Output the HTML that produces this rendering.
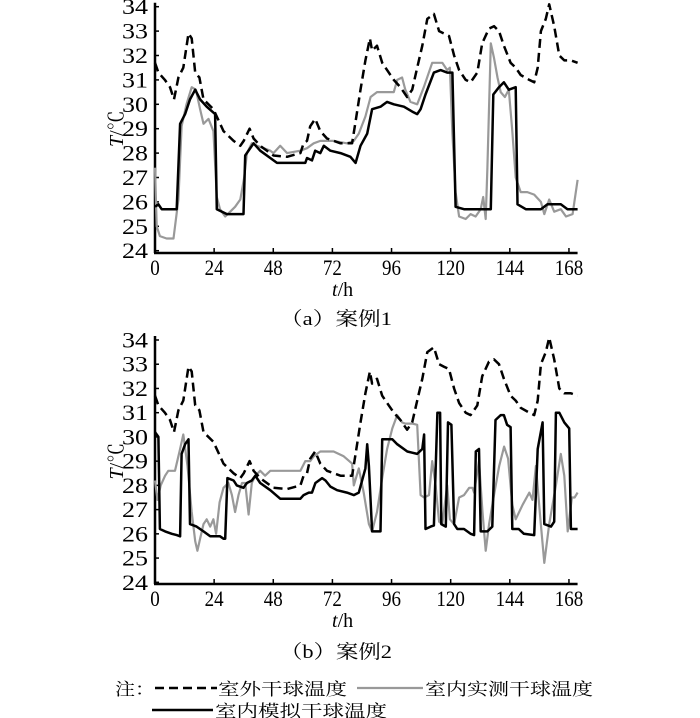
<!DOCTYPE html>
<html><head><meta charset="utf-8"><style>
html,body{margin:0;padding:0;background:#fff;}
svg{display:block;}
text{font-family:"Liberation Serif","Noto Serif CJK SC",serif;fill:#000;}
</style></head><body>
<svg id="svg" width="700" height="718" viewBox="0 0 700 718">
<g id="pa"></g>
<g id="pb"></g>
<g>
<text x="115" y="695" font-size="17" textLength="40" lengthAdjust="spacingAndGlyphs">注：</text>
<line x1="155" y1="688" x2="217" y2="688" stroke="#000" stroke-width="2.5" stroke-dasharray="9,5"/>
<text x="218" y="695" font-size="17" textLength="129" lengthAdjust="spacingAndGlyphs">室外干球温度</text>
<line x1="357" y1="688" x2="423" y2="688" stroke="#999" stroke-width="2.2"/>
<text x="425" y="695" font-size="17" textLength="168" lengthAdjust="spacingAndGlyphs">室内实测干球温度</text>
<line x1="152" y1="710" x2="213" y2="710" stroke="#000" stroke-width="2.5"/>
<text x="215" y="717" font-size="17" textLength="172" lengthAdjust="spacingAndGlyphs">室内模拟干球温度</text>
</g>
</svg>
<script>
const xTicks=[0,24,48,72,96,120,144,168];
const yTicks=[24,25,26,27,28,29,30,31,32,33,34];
const outH=[0,1.4,4,6.1,7.7,9.5,11.5,13.6,14.9,16.3,18,19.7,23.7,27.8,31.9,34.6,36,38.4,40,42.7,48.1,53.6,59,60.3,61.7,63,65,67.1,69.8,75.3,80,81.4,83.4,85.4,87.2,88.1,90.1,92.2,94.9,96.9,99.6,102.3,104.4,106.4,108.5,110.5,113.2,115.3,117.3,119.3,121.4,123.4,126.1,128.1,130.8,132.8,135.5,137.6,139.6,141.6,144.3,146.4,148.4,151.9,153.9,155.3,156.6,158.6,160,162,164.1,166.1,168.8,171.5];
const outT=[31.7,31.3,31.0,30.7,30.2,31.1,31.5,32.9,32.7,31.3,31.1,30.2,29.8,28.9,28.5,28.3,28.5,29.0,28.6,28.3,27.9,27.85,28.0,28.4,28.5,29.1,29.4,28.9,28.6,28.4,28.4,29.3,30.6,31.8,32.7,32.2,32.4,31.7,31.3,31.0,30.7,30.3,30.6,31.5,32.4,33.5,33.7,33.0,32.9,32.8,32.0,31.4,31.0,30.9,31.3,32.5,33.1,33.2,33.0,32.4,31.7,31.5,31.2,31.0,30.9,31.5,33.0,33.5,34.1,33.2,32.0,31.8,31.8,31.7];
const simAH=[0,1.4,2.7,8.8,10.2,12.2,14.2,16.3,18.3,21,24.4,25.1,29.2,32.5,35.9,36.6,40,42.7,46.8,49.5,53.6,61,61.7,63.7,65,67.1,68.5,71.2,75.3,79.3,81.4,83.4,86.1,88.1,91.5,94.2,96.9,101,104.4,106.4,107.8,109.8,113.2,115.9,118.6,120.7,122,125.4,130.8,136.3,137.3,139.6,141.6,143.6,146.4,147.1,150.5,153.9,156.6,159.3,164.7,167.4,171.5];
const simAT=[25.8,25.9,25.7,25.7,29.2,29.6,30.2,30.6,30.2,29.9,29.6,25.7,25.5,25.5,25.5,27.9,28.4,28.1,27.8,27.6,27.6,27.6,27.8,27.7,28.1,28.0,28.3,28.1,28.0,27.85,27.6,28.3,28.8,29.8,29.9,30.1,30.0,29.9,29.7,29.6,29.8,30.4,31.3,31.4,31.3,31.3,25.8,25.7,25.7,25.7,30.4,30.7,30.9,30.6,30.7,25.9,25.7,25.7,25.7,25.9,25.9,25.7,25.7];
const meaAH=[0,0.7,2,4.7,7.5,9.5,10.8,12.8,14.9,16.6,18.3,19.7,21.7,23.7,25.1,26.4,28.5,30.5,32.5,34.6,36.2,37.3,39.3,41.4,44.1,46.8,48.1,50.8,53.6,59,61.7,64.4,67.1,72.5,77.9,80.7,82.7,85.4,87.5,90.1,96.9,98.3,100.3,101.6,103.7,106.4,109.1,112.5,116.6,118.6,119.7,120.7,122,123.4,126.1,128.1,130.1,132.2,133.2,134.2,134.9,136.3,137.6,139,140.3,142,143.6,145,146.4,148.4,151.1,153.9,156.6,158,160,162,164.7,166.8,169.5,171.5];
const meaAT=[27.4,25,24.6,24.5,24.5,26.1,29.1,30.0,30.7,30.6,29.8,29.2,29.4,28.9,26.2,25.7,25.4,25.6,25.8,26.1,27,28,28.4,28.3,28.2,28.1,28.0,28.3,28.0,28.1,28.2,28.4,28.5,28.5,28.4,28.5,28.8,29.5,30.3,30.5,30.5,31.0,31.1,30.6,30.1,30.0,30.7,31.7,31.7,31.4,31.5,28.8,26.4,25.4,25.3,25.5,25.4,25.7,26.2,25.3,27.4,32.5,31.9,31.1,30.5,30.3,30.6,28.9,27.0,26.4,26.4,26.3,26.0,25.5,26.1,25.6,25.7,25.4,25.5,26.9];
const simBH=[0,1.4,2,4.1,6.8,8.8,10.2,10.8,12.2,13.6,14.2,16.9,19.7,22.4,26.4,27.8,28.5,29.4,31.9,33.2,35.9,37.3,39.3,40.7,42.7,46.8,50.8,54.9,59,60.3,62.4,63.7,65.1,67.8,69.2,71.2,73.9,77.9,80.7,82.7,85.4,86.1,86.8,88.1,90.8,91.5,92.2,95.6,96.3,98.3,102.4,104.4,106.4,108.5,109.2,109.8,111.9,113.2,114.6,115.7,116.2,118,118.9,120.3,121.4,122.7,125.4,128.1,129.5,130.2,131.5,132.2,134.9,136.9,138.2,140.3,141.6,142.9,144.3,145,147.6,149.7,153.9,155.3,157.3,158,160.7,162,162.7,164.1,166.1,168.1,168.8,171.5];
const simBT=[30.2,30.0,26.2,26.1,26.0,25.95,25.9,29.3,29.7,29.9,26.4,26.3,26.1,25.9,25.9,25.8,25.8,28.3,28.2,28.0,27.9,28.1,28.2,28.4,28.1,27.8,27.45,27.45,27.45,27.6,27.7,27.7,28.1,28.3,28.2,27.95,27.8,27.7,27.6,27.7,28.7,29.7,28.8,26.1,26.1,26.1,29.9,29.9,29.9,29.7,29.4,29.35,29.3,29.5,30.1,26.2,26.3,26.35,31.0,31.0,26.4,26.3,30.6,30.5,26.4,26.2,26.2,26.0,25.95,29.4,29.5,26.1,26.1,26.3,30.7,30.9,30.9,30.5,30.4,26.2,26.2,26.0,25.95,29.5,30.6,26.4,26.3,26.5,31.0,31.0,30.6,30.35,26.2,26.2];
const meaBH=[0,1,2.3,4.1,5.4,8.1,10.2,11.5,13.2,14.9,16.3,17.2,18.3,19.7,21,22.4,23.7,24.8,26.2,27.8,29.8,31.2,32.5,33.9,35.3,36.6,38,39.3,40.7,42.7,44.7,46.8,49.5,50.8,53.6,59,61,63,64.4,67.1,72.5,76.6,80,80.7,82.7,84.7,86.8,88.1,90.1,92.2,94.2,96.3,98.3,100.3,101.6,104.4,106.4,107.8,109.2,111.2,112.5,113.9,115.3,116.6,118.6,119.7,121.4,123.4,125.4,127.5,128.8,129.5,131.5,132.9,134.2,135.6,137.6,139.7,141.7,143.3,145,146.4,149.2,151.9,153.2,154.6,156.4,158,160,162.7,164.7,166.1,167.5,169.2,170.3,171.5];
const meaBT=[28.2,27.4,28,28.4,28.6,28.6,29.5,30.1,28.8,26.9,25.7,25.3,25.8,26.4,26.6,26.3,26.6,26.0,27.3,27.9,28.1,27.6,26.9,27.6,28.1,28.1,26.8,28.1,28.4,28.6,28.4,28.6,28.6,28.6,28.6,28.6,29.0,29.0,29.2,29.4,29.4,29.2,28.9,28.0,28.7,27.7,26.4,26.1,26.9,28.3,29.5,30.35,30.9,30.6,30.55,30.55,30.5,27.6,27.5,27.6,29.0,28.0,26.5,26.4,28.0,26.6,26.4,27.5,27.6,27.9,27.9,27.7,29.0,26.9,25.3,26.4,27.6,28.8,29.6,29.1,27.2,26.6,27.2,27.7,27.4,28.8,26.6,24.8,26.4,28.0,29.3,28.4,26.1,27.5,27.5,27.7];

const NS='http://www.w3.org/2000/svg';
function mk(parent,tag,attrs){const e=document.createElementNS(NS,tag);for(const k in attrs)e.setAttribute(k,attrs[k]);parent.appendChild(e);return e;}

function panel(g,cfg){
  const xS=h=>cfg.x0+h*cfg.pxh;
  const yS=v=>cfg.y24+(v-24)*(cfg.y34-cfg.y24)/10;
  const yAxis=mk(g,'line',{x1:cfg.x0,y1:cfg.y34-4,x2:cfg.x0,y2:cfg.axisY,stroke:'#000','stroke-width':2.5});
  
  
  const xAxis=mk(g,'line',{x1:cfg.x0-1,y1:cfg.axisY,x2:xS(171.5),y2:cfg.axisY,stroke:'#000','stroke-width':2.5});
  
  
  yTicks.forEach(v=>{
    const y=yS(v);
    const t=mk(g,'line',{x1:cfg.x0,y1:y,x2:cfg.x0+4,y2:y,stroke:'#000','stroke-width':1.5});
    
    
    const l=mk(g,'text',{x:148,y:y+7.5,'font-size':22,'text-anchor':'end',textLength:26,lengthAdjust:'spacingAndGlyphs'});
    l.textContent=v;
    
    
  });
  xTicks.forEach(h=>{
    const x=xS(h);
    const t=mk(g,'line',{x1:x,y1:cfg.axisY,x2:x,y2:cfg.axisY-5,stroke:'#000','stroke-width':1.5});
    
    
    const s=String(h);
    const l=mk(g,'text',{x:x,y:cfg.axisY+22,'font-size':22,'text-anchor':'middle',textLength:s.length*9.5,lengthAdjust:'spacingAndGlyphs'});
    l.textContent=s;
    
    
  });
  const xt=mk(g,'text',{x:332,y:cfg.axisY+43,'font-size':20});
  xt.innerHTML='<tspan font-style="italic">t</tspan>/h';
  
  
  const cy=(cfg.y24+cfg.y34)/2;
  const yt=mk(g,'text',{x:0,y:0,'font-size':20,'text-anchor':'middle',transform:`translate(123,${cy}) rotate(-90)`});
  yt.innerHTML='<tspan font-style="italic">T</tspan>/℃';
  
  
  const cap=mk(g,'text',{x:280,y:cfg.capY,'font-size':19,textLength:112,lengthAdjust:'spacingAndGlyphs'});
  cap.textContent=cfg.cap;
  
  
  function series(H,T,style,name){
    const d=H.map((h,i)=>(i?'L':'M')+xS(h).toFixed(1)+','+yS(T[i]).toFixed(1)).join('');
    const p=mk(g,'path',Object.assign({d:d,fill:'none','stroke-linejoin':'round'},style));
    
    
  }
  series(cfg.mH,cfg.mT,{stroke:'#999','stroke-width':2.2},'measured-indoor-line');
  series(outH,outT,{stroke:'#000','stroke-width':2.5,'stroke-dasharray':'9,5'},'outdoor-line');
  series(cfg.sH,cfg.sT,{stroke:'#000','stroke-width':2.5},'simulated-indoor-line');
}
panel(document.getElementById('pa'),{x0:155,pxh:2.464,y24:250.7,y34:6.7,axisY:253,capY:325,cap:'（a）案例1',mH:meaAH,mT:meaAT,sH:simAH,sT:simAT});
panel(document.getElementById('pb'),{x0:155,pxh:2.464,y24:582.3,y34:340,axisY:584,capY:658,cap:'（b）案例2',mH:meaBH,mT:meaBT,sH:simBH,sT:simBT});
</script>
</body></html>
